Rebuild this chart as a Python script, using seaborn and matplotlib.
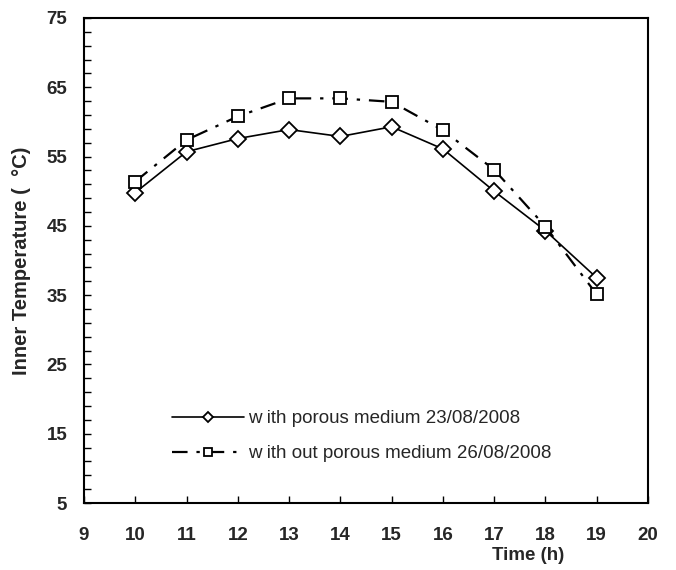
import matplotlib
matplotlib.use("Agg")
import matplotlib.pyplot as plt
import seaborn as sns
import pandas as pd
from matplotlib.ticker import MultipleLocator

hours = [10, 11, 12, 13, 14, 15, 16, 17, 18, 19]
with_porous = [49.8, 55.7, 57.6, 58.9, 57.9, 59.3, 56.1, 50.0, 44.3, 37.5]
without_porous = [51.4, 57.4, 60.8, 63.4, 63.4, 62.9, 58.8, 53.1, 44.9, 35.1]
label_with = "w ith porous medium 23/08/2008"
label_without = "w ith out porous medium 26/08/2008"

sns.set_style("ticks")
plt.rcParams['font.family'] = ['Liberation Sans', 'DejaVu Sans']

df1 = pd.DataFrame({"Time": hours, "Temp": with_porous})
df2 = pd.DataFrame({"Time": hours, "Temp": without_porous})

fig = plt.figure(figsize=(6.76, 5.70), dpi=100)
ax = fig.add_axes([84/676, 1 - 503/570, (648-84)/676, (503-18)/570])

sns.lineplot(data=df1, x="Time", y="Temp", ax=ax, color="black", lw=1.2,
             marker="D", markersize=8, markerfacecolor="white",
             markeredgecolor="black", markeredgewidth=1.3, label=label_with)
sns.lineplot(data=df2, x="Time", y="Temp", ax=ax, color="black", lw=1.6,
             linestyle=(0, (7, 4, 1.5, 4)),
             marker="s", markersize=9, markerfacecolor="white",
             markeredgecolor="black", markeredgewidth=1.3, label=label_without)

ax.set_xlim(9, 20)
ax.set_ylim(5, 75)
ax.xaxis.set_major_locator(MultipleLocator(1))
ax.yaxis.set_major_locator(MultipleLocator(10, offset=5))
ax.yaxis.set_minor_locator(MultipleLocator(2, offset=1))
ax.tick_params(axis='both', which='both', direction='in', width=1, color='black')
ax.tick_params(axis='both', which='major', length=5, labelsize=13.5)
ax.tick_params(axis='x', which='major', pad=17)
ax.tick_params(axis='y', which='major', pad=12)
ax.tick_params(axis='y', which='minor', length=5)
for lab in ax.get_xticklabels() + ax.get_yticklabels():
    lab.set_fontweight('bold')
for s in ax.spines.values():
    s.set_visible(True)
    s.set_linewidth(1.5)
    s.set_color('black')

ax.set_xlabel("")
ax.set_ylabel("Inner Temperature (  °C)", fontsize=14.5, fontweight='bold', labelpad=11)
fig.text(528/676, 1 - 556/570, "Time (h)", ha='center', va='center',
         fontsize=13.5, fontweight='bold')

leg = ax.legend(loc='center left', bbox_to_anchor=(0.126, 0.138), frameon=False,
                fontsize=13.5, handlelength=3.85, handletextpad=0.2,
                labelspacing=0.96, markerscale=0.7)

fig.savefig("out.png", dpi=100)
